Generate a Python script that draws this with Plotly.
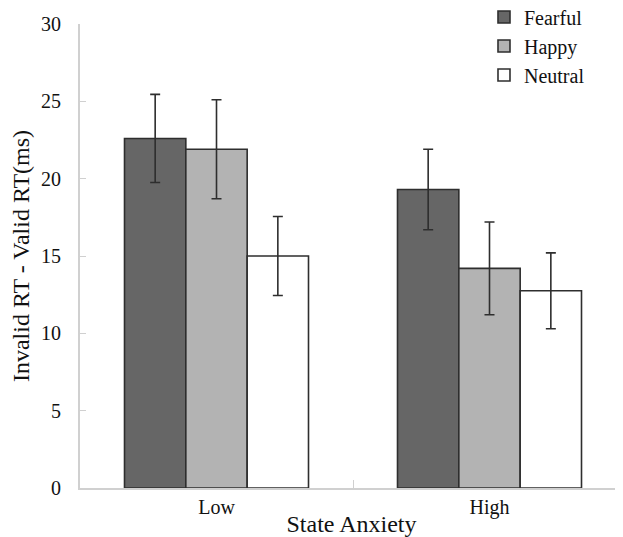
import plotly.graph_objects as go

categories = ["Low", "High"]
series_names = ["Fearful", "Happy", "Neutral"]
fearful = [22.6, 19.3]
happy = [21.9, 14.2]
neutral = [15.0, 12.75]
fearful_err = [2.85, 2.6]
happy_err = [3.2, 3.0]
neutral_err = [2.55, 2.45]
y_ticks = [0, 5, 10, 15, 20, 25, 30]

colors = ["#666666", "#b3b3b3", "#ffffff"]
FONT = "Liberation Serif, Times New Roman, serif"

fig = go.Figure()
for name, vals, errs, col in zip(series_names, [fearful, happy, neutral],
                                 [fearful_err, happy_err, neutral_err], colors):
    fig.add_trace(go.Bar(
        x=categories, y=vals, name=name,
        marker=dict(color=col, line=dict(color="#2e2e2e", width=1.6)),
        error_y=dict(type="data", array=errs, color="#2e2e2e", thickness=1.6, width=5),
    ))

fig.update_layout(
    width=615, height=529,
    margin=dict(l=72, r=0, t=16, b=48.5, autoexpand=False),
    paper_bgcolor="white", plot_bgcolor="white",
    barmode="group", bargap=0.326, bargroupgap=0,
    font=dict(family=FONT, size=20, color="#111111"),
    showlegend=True,
    legend=dict(x=0.744, y=1.057, xanchor="left", yanchor="top",
                bgcolor="rgba(0,0,0,0)", font=dict(size=20),
                tracegroupgap=0, itemwidth=30),
    xaxis=dict(
        range=[-0.5, 1.489], showline=True, linecolor="#d0d0d0", linewidth=2,
        ticks="inside", tickson="boundaries", ticklen=8, tickcolor="#d0d0d0",
        title=dict(text="State Anxiety", standoff=0), showgrid=False,
    ),
    yaxis=dict(
        range=[0, 30], tickvals=y_ticks, showline=True, linecolor="#d0d0d0",
        linewidth=2, ticks="inside", ticklen=6, tickcolor="#d0d0d0",
        showgrid=False, zeroline=False, ticklabelstandoff=13,
        title=dict(text="Invalid RT - Valid RT(ms)", standoff=12),
    ),
)

fig.write_html("out.html")
